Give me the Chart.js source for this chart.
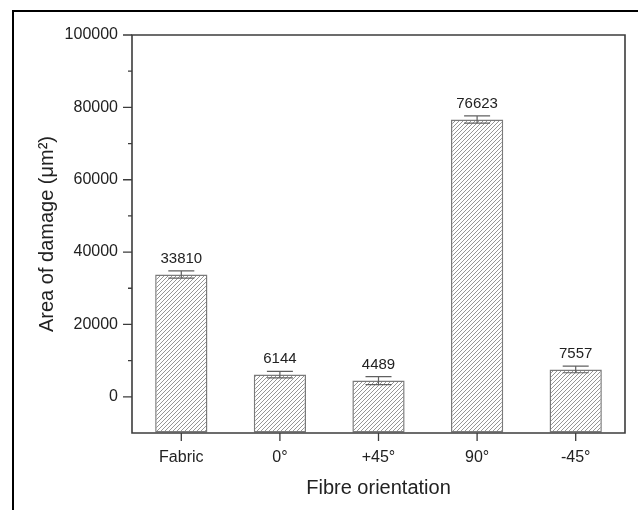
<!DOCTYPE html>
<html>
<head>
<meta charset="utf-8">
<script src="https://cdn.jsdelivr.net/npm/chart.js@4.4.1/dist/chart.umd.min.js"></script>
<style>
  html, body { margin: 0; padding: 0; background: #fff; }
  #wrap { position: relative; width: 638px; height: 510px; }
</style>
</head>
<body>
<div id="wrap"><canvas id="chart" width="638" height="510"></canvas></div>
<script>
const categories = ['Fabric', '0°', '+45°', '90°', '-45°'];
const damageArea = [33810, 6144, 4489, 76623, 7557];
const damageErr = [1000, 900, 1100, 1000, 900];
const yMin = -10000;
const yMax = 100000;
const yStep = 10000;

// hatch fill for the bars
function makeHatch() {
  const s = 4;
  const c = document.createElement('canvas');
  c.width = s; c.height = s;
  const g = c.getContext('2d');
  g.fillStyle = '#fff';
  g.fillRect(0, 0, s, s);
  g.strokeStyle = '#8a8a8a';
  g.lineWidth = 0.9;
  g.beginPath();
  g.moveTo(-1, s + 1); g.lineTo(s + 1, -1);
  g.moveTo(-1, 1); g.lineTo(1, -1);
  g.moveTo(s - 1, s + 1); g.lineTo(s + 1, s - 1);
  g.stroke();
  return g.createPattern(c, 'repeat');
}

const frameAndExtras = {
  id: 'frameAndExtras',
  afterDatasetsDraw(chart) {
    const ctx = chart.ctx;
    const x = chart.scales.x, y = chart.scales.y;
    const a = chart.chartArea;
    ctx.save();

    // error bars
    ctx.strokeStyle = '#606060';
    ctx.lineWidth = 1.2;
    const meta = chart.getDatasetMeta(0);
    meta.data.forEach((bar, i) => {
      const cx = bar.x;
      const top = y.getPixelForValue(damageArea[i] + damageErr[i]);
      const bot = y.getPixelForValue(damageArea[i] - damageErr[i]);
      ctx.beginPath();
      ctx.moveTo(cx, top); ctx.lineTo(cx, bot);
      ctx.moveTo(cx - 13, top); ctx.lineTo(cx + 13, top);
      ctx.moveTo(cx - 13, bot); ctx.lineTo(cx + 13, bot);
      ctx.stroke();
    });

    // value labels
    ctx.fillStyle = '#222';
    ctx.font = '15px "Liberation Sans", Arial, sans-serif';
    ctx.textAlign = 'center';
    ctx.textBaseline = 'middle';
    meta.data.forEach((bar, i) => {
      const py = y.getPixelForValue(damageArea[i] + damageErr[i]) - 12;
      ctx.fillText(String(damageArea[i]), bar.x, py);
    });

    // axes frame
    ctx.strokeStyle = '#3c3c3c';
    ctx.lineWidth = 1.6;
    ctx.beginPath();
    ctx.rect(a.left, a.top, a.right - a.left, a.bottom - a.top);
    ctx.stroke();

    // y ticks, major and minor
    ctx.lineWidth = 1.3;
    ctx.beginPath();
    for (let v = 0; v <= yMax; v += yStep) {
      const py = y.getPixelForValue(v);
      const len = v % 20000 === 0 ? 9 : 4;
      ctx.moveTo(a.left - len, py); ctx.lineTo(a.left, py);
    }
    // x ticks
    categories.forEach((c, i) => {
      const px = x.getPixelForValue(i);
      ctx.moveTo(px, a.bottom); ctx.lineTo(px, a.bottom + 8);
    });
    ctx.stroke();

    // outer border (left and top)
    ctx.strokeStyle = '#000';
    ctx.lineWidth = 2;
    ctx.beginPath();
    ctx.moveTo(13, 510); ctx.lineTo(13, 11); ctx.lineTo(638, 11);
    ctx.stroke();
    ctx.restore();
  }
};

const ctx = document.getElementById('chart').getContext('2d');
new Chart(ctx, {
  type: 'bar',
  data: {
    labels: categories,
    datasets: [{
      data: damageArea,
      base: yMin,
      backgroundColor: makeHatch(),
      borderColor: '#7a7a7a',
      borderWidth: 1.5,
      borderSkipped: false,
      barPercentage: 0.53,
      categoryPercentage: 1
    }]
  },
  options: {
    responsive: false,
    animation: false,
    layout: { padding: { left: 0, right: 13, top: 35, bottom: 0 } },
    plugins: {
      legend: { display: false },
      tooltip: { enabled: false }
    },
    scales: {
      x: {
        afterFit: s => { s.height = 77; },
        grid: { display: true, drawOnChartArea: false, drawTicks: false },
        border: { display: false },
        ticks: {
          padding: 15,
          color: '#222',
          font: { family: '"Liberation Sans", Arial, sans-serif', size: 16 }
        },
        title: {
          display: true,
          text: 'Fibre orientation',
          color: '#222',
          padding: { top: 0, bottom: 10 },
          font: { family: '"Liberation Sans", Arial, sans-serif', size: 20 }
        }
      },
      y: {
        min: yMin,
        max: yMax,
        afterFit: s => { s.width = 132; },
        grid: { display: true, drawOnChartArea: false, drawTicks: false },
        border: { display: false },
        ticks: {
          stepSize: yStep,
          autoSkip: false,
          padding: 14,
          color: '#222',
          font: { family: '"Liberation Sans", Arial, sans-serif', size: 16 },
          callback: v => (v >= 0 && v % 20000 === 0) ? String(v) : ''
        },
        title: {
          display: true,
          text: 'Area of damage (μm²)',
          color: '#222',
          padding: { top: 35, bottom: 0 },
          font: { family: '"Liberation Sans", Arial, sans-serif', size: 20 }
        }
      }
    }
  },
  plugins: [frameAndExtras]
});
</script>
</body>
</html>
